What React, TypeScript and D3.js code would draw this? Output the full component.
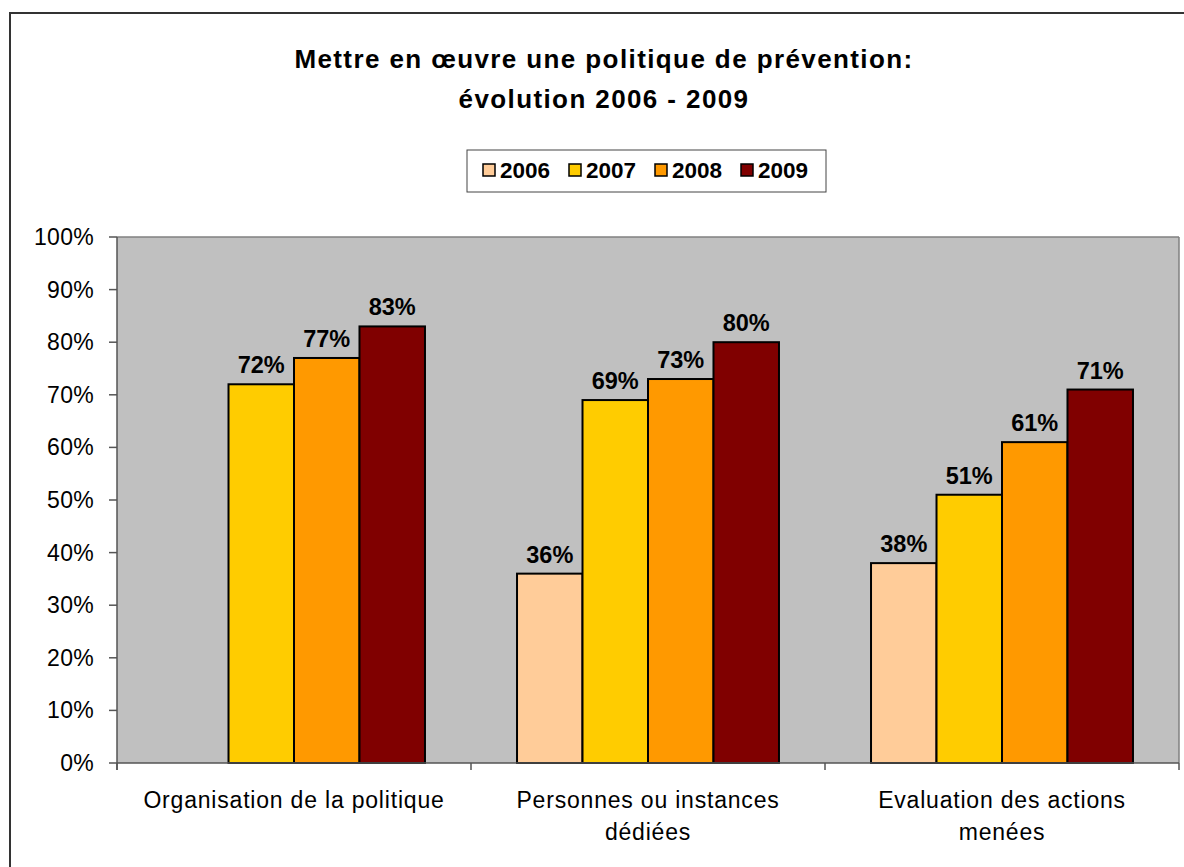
import React from "react";
import * as d3 from "d3";

const categories = [
  ["Organisation de la politique"],
  ["Personnes ou instances", "dédiées"],
  ["Evaluation des actions", "menées"],
];
const seriesNames = ["2006", "2007", "2008", "2009"];
const seriesColors = ["#FFCC99", "#FFCC00", "#FF9900", "#800000"];
const values2006 = [null, 36, 38];
const values2007 = [72, 69, 51];
const values2008 = [77, 73, 61];
const values2009 = [83, 80, 71];
const yTicks = [0, 10, 20, 30, 40, 50, 60, 70, 80, 90, 100];
const titleLines = ["Mettre en œuvre une politique de prévention:", "évolution 2006 - 2009"];

export default function App() {
  const W = 1184, H = 867;
  const left = 117, right = 1179, top = 237, bottom = 763;
  const series = [values2006, values2007, values2008, values2009];
  const x0 = d3.scaleBand<number>().domain([0, 1, 2]).range([left, right]).paddingInner(0.26).paddingOuter(0.13);
  const x1 = d3.scaleBand<number>().domain([0, 1, 2, 3]).range([0, x0.bandwidth()]);
  const y = d3.scaleLinear().domain([0, 100]).range([bottom, top]);
  const step = (right - left) / 3;
  const font = "Liberation Sans, Arial, sans-serif";

  const legendItems = seriesNames.map((n, i) => ({ n, c: seriesColors[i] }));

  return (
    <svg width={W} height={H} style={{ position: "absolute", left: 0, top: 0 }} fontFamily={font}>
      <rect x={0} y={0} width={W} height={H} fill="#fff" />
      <rect x={10} y={13} width={1250} height={950} fill="#fff" stroke="#333" strokeWidth={2} />
      {titleLines.map((t, i) => (
        <text key={i} x={604} y={68 + i * 40} textAnchor="middle" fontSize={26} fontWeight="bold" letterSpacing={1.4} fill="#000">{t}</text>
      ))}
      {/* legend */}
      <rect x={467} y={150} width={359} height={42} fill="#fff" stroke="#444" strokeWidth={1} />
      {legendItems.map((it, i) => {
        const lx = 483 + i * 86;
        return (
          <g key={i}>
            <rect x={lx} y={164} width={12} height={12} fill={it.c} stroke="#000" strokeWidth={1.5} />
            <text x={lx + 17} y={178} fontSize={22.5} fontWeight="bold" fill="#000">{it.n}</text>
          </g>
        );
      })}
      {/* plot */}
      <rect x={left} y={top} width={right - left} height={bottom - top} fill="#C0C0C0" />
      <line x1={left} y1={top} x2={right} y2={top} stroke="#808080" strokeWidth={1.5} />
      <line x1={right} y1={top} x2={right} y2={bottom} stroke="#808080" strokeWidth={1.5} />
      {series.map((vals, si) =>
        vals.map((v, ci) =>
          v == null ? null : (
            <g key={`${si}-${ci}`}>
              <rect x={(x0(ci) as number) + (x1(si) as number)} y={y(v)} width={x1.bandwidth()} height={bottom - y(v)} fill={seriesColors[si]} stroke="#000" strokeWidth={2} />
              <text x={(x0(ci) as number) + (x1(si) as number) + x1.bandwidth() / 2} y={y(v) - 11} textAnchor="middle" fontSize={23.5} fontWeight="bold" fill="#000">{v}%</text>
            </g>
          )
        )
      )}
      {/* y axis */}
      <line x1={left} y1={top} x2={left} y2={bottom + 7} stroke="#555" strokeWidth={1.5} />
      {yTicks.map((t) => (
        <g key={t}>
          <line x1={left - 8} x2={left} y1={y(t)} y2={y(t)} stroke="#555" strokeWidth={1.5} />
          <text x={94} y={y(t) + 8} textAnchor="end" fontSize={23} letterSpacing={0.3} fill="#000">{t}%</text>
        </g>
      ))}
      {/* x axis */}
      <line x1={left} y1={bottom} x2={right} y2={bottom} stroke="#555" strokeWidth={1.5} />
      {[0, 1, 2, 3].map((i) => (
        <line key={i} x1={left + i * step} x2={left + i * step} y1={bottom} y2={bottom + 7} stroke="#555" strokeWidth={1.5} />
      ))}
      {categories.map((lines, ci) => (
        <text key={ci} x={(x0(ci) as number) + x0.bandwidth() / 2} textAnchor="middle" fontSize={23} letterSpacing={0.8} fill="#000">
          {lines.map((l, li) => (
            <tspan key={li} x={(x0(ci) as number) + x0.bandwidth() / 2} y={808 + li * 32}>{l}</tspan>
          ))}
        </text>
      ))}
    </svg>
  );
}
